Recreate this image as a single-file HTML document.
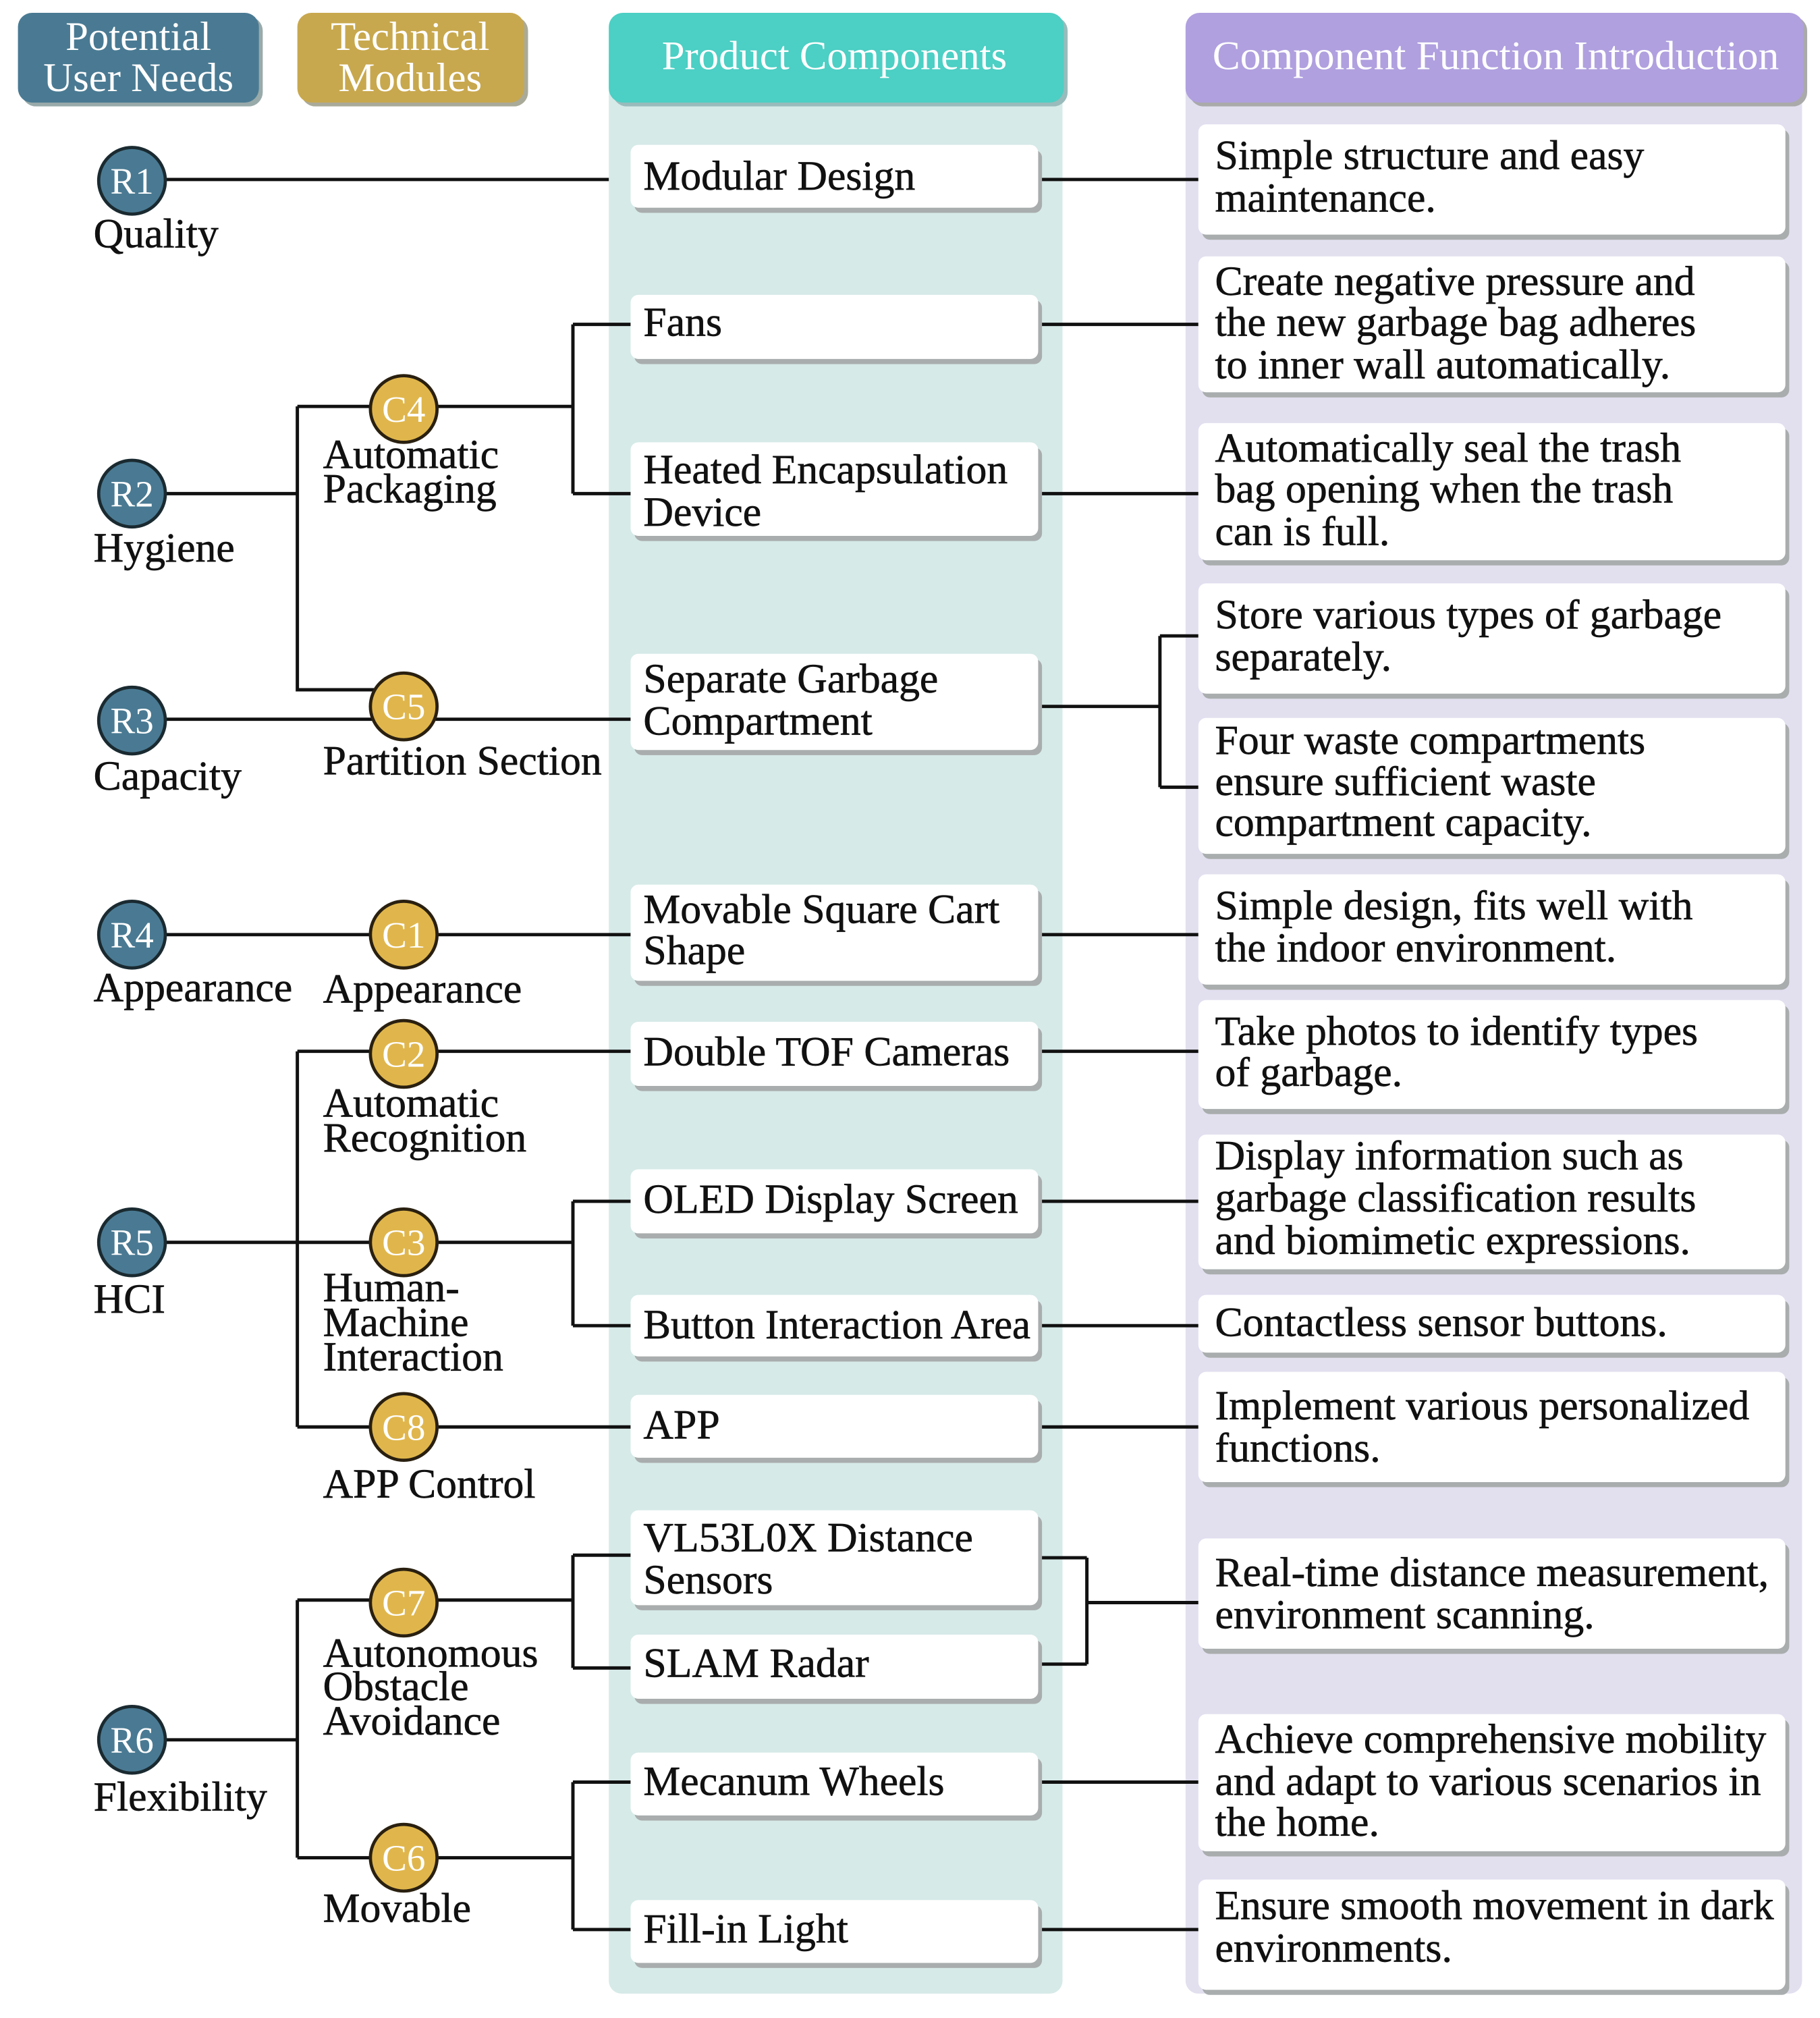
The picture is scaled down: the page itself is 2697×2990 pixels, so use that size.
<!DOCTYPE html>
<html><head><meta charset="utf-8"><style>html,body{margin:0;padding:0;background:#fff}svg{display:block}</style></head>
<body>
<svg xmlns="http://www.w3.org/2000/svg" width="2697" height="2990" viewBox="0 0 1420 1574" preserveAspectRatio="none" font-family="'Liberation Serif', serif">
<rect width="1420" height="1574" fill="#fff"/>
<rect x="475" y="40" width="354" height="1515" rx="10" fill="#d6eae8"/>
<rect x="925" y="40" width="481" height="1515" rx="10" fill="#e2e0ef"/>
<g>
<rect x="17" y="13" width="188" height="70" rx="11" fill="#9aa"/>
<rect x="14" y="10" width="188" height="70" rx="11" fill="#4a7a93"/>
<rect x="235" y="13" width="177" height="70" rx="11" fill="#aa9"/>
<rect x="232" y="10" width="177" height="70" rx="11" fill="#c8a84e"/>
<rect x="478" y="13" width="355" height="70" rx="11" fill="#9bb"/>
<rect x="475" y="10" width="355" height="70" rx="11" fill="#4ccfc4"/>
<rect x="928" y="13" width="482" height="70" rx="11" fill="#aaa"/>
<rect x="925" y="10" width="482" height="70" rx="11" fill="#b0a0df"/>
</g>
<g fill="#fff" font-size="32" text-anchor="middle">
<text x="108" y="39">Potential</text><text x="108" y="71">User Needs</text>
<text x="320" y="39">Technical</text><text x="320" y="71">Modules</text>
<text x="651" y="54">Product Components</text>
<text x="1167" y="54" textLength="442" lengthAdjust="spacingAndGlyphs">Component Function Introduction</text>
</g>
<g stroke="#111" stroke-width="2.6" fill="none">
<path d="M130 140H475M810 140H935"/>
<path d="M130 385H232M232 317V538H300M232 317H447M447 253V385M447 253H492M447 385H492"/>
<path d="M810 253H935M810 385H935"/>
<path d="M130 561H492"/>
<path d="M810 551H905M905 496V614M905 496H935M905 614H935"/>
<path d="M130 729H492M810 729H935"/>
<path d="M130 969H447M232 820V1113M232 820H492M232 1113H492M447 937V1034M447 937H492M447 1034H492"/>
<path d="M810 820H935M810 937H935M810 1034H935M810 1113H935"/>
<path d="M130 1357H232M232 1248V1449M232 1248H447M447 1213V1301M447 1213H492M447 1301H492M232 1449H447M447 1390V1505M447 1390H492M447 1505H492"/>
<path d="M810 1215H848M810 1298H848M848 1215V1298M848 1250H935"/>
<path d="M810 1390H935M810 1505H935"/>
</g>
<g fill="#a9adad">
<rect x="495" y="117" width="318" height="49" rx="6"/>
<rect x="495" y="234" width="318" height="50" rx="6"/>
<rect x="495" y="349" width="318" height="73" rx="6"/>
<rect x="495" y="514" width="318" height="75" rx="6"/>
<rect x="495" y="694" width="318" height="75" rx="6"/>
<rect x="495" y="801" width="318" height="50" rx="6"/>
<rect x="495" y="916" width="318" height="50" rx="6"/>
<rect x="495" y="1014" width="318" height="48" rx="6"/>
<rect x="495" y="1092" width="318" height="49" rx="6"/>
<rect x="495" y="1182" width="318" height="74" rx="6"/>
<rect x="495" y="1279" width="318" height="50" rx="6"/>
<rect x="495" y="1371" width="318" height="49" rx="6"/>
<rect x="495" y="1486" width="318" height="49" rx="6"/>
</g>
<g fill="#fff">
<rect x="492" y="113" width="318" height="49" rx="6"/>
<rect x="492" y="230" width="318" height="50" rx="6"/>
<rect x="492" y="345" width="318" height="73" rx="6"/>
<rect x="492" y="510" width="318" height="75" rx="6"/>
<rect x="492" y="690" width="318" height="75" rx="6"/>
<rect x="492" y="797" width="318" height="50" rx="6"/>
<rect x="492" y="912" width="318" height="50" rx="6"/>
<rect x="492" y="1010" width="318" height="48" rx="6"/>
<rect x="492" y="1088" width="318" height="49" rx="6"/>
<rect x="492" y="1178" width="318" height="74" rx="6"/>
<rect x="492" y="1275" width="318" height="50" rx="6"/>
<rect x="492" y="1367" width="318" height="49" rx="6"/>
<rect x="492" y="1482" width="318" height="49" rx="6"/>
</g>
<g font-size="32.5" fill="#111" stroke="#111" stroke-width="0.35">
<text x="502" y="148">Modular Design</text>
<text x="502" y="262">Fans</text>
<text x="502" y="377">Heated Encapsulation</text><text x="502" y="410">Device</text>
<text x="502" y="540">Separate Garbage</text><text x="502" y="573">Compartment</text>
<text x="502" y="720">Movable Square Cart</text><text x="502" y="752">Shape</text>
<text x="502" y="831">Double TOF Cameras</text>
<text x="502" y="946">OLED Display Screen</text>
<text x="502" y="1044" textLength="302" lengthAdjust="spacingAndGlyphs">Button Interaction Area</text>
<text x="502" y="1122">APP</text>
<text x="502" y="1210">VL53L0X Distance</text><text x="502" y="1243">Sensors</text>
<text x="502" y="1308">SLAM Radar</text>
<text x="502" y="1400">Mecanum Wheels</text>
<text x="502" y="1515">Fill-in Light</text>
</g>
<g fill="#a9adad">
<rect x="938" y="101" width="458" height="86" rx="6"/>
<rect x="938" y="204" width="458" height="106" rx="6"/>
<rect x="938" y="334" width="458" height="107" rx="6"/>
<rect x="938" y="459" width="458" height="86" rx="6"/>
<rect x="938" y="564" width="458" height="106" rx="6"/>
<rect x="938" y="686" width="458" height="86" rx="6"/>
<rect x="938" y="784" width="458" height="85" rx="6"/>
<rect x="938" y="889" width="458" height="105" rx="6"/>
<rect x="938" y="1014" width="458" height="45" rx="6"/>
<rect x="938" y="1074" width="458" height="86" rx="6"/>
<rect x="938" y="1204" width="458" height="86" rx="6"/>
<rect x="938" y="1341" width="458" height="107" rx="6"/>
<rect x="938" y="1470" width="458" height="86" rx="6"/>
</g>
<g fill="#fff">
<rect x="935" y="97" width="458" height="86" rx="6"/>
<rect x="935" y="200" width="458" height="106" rx="6"/>
<rect x="935" y="330" width="458" height="107" rx="6"/>
<rect x="935" y="455" width="458" height="86" rx="6"/>
<rect x="935" y="560" width="458" height="106" rx="6"/>
<rect x="935" y="682" width="458" height="86" rx="6"/>
<rect x="935" y="780" width="458" height="85" rx="6"/>
<rect x="935" y="885" width="458" height="105" rx="6"/>
<rect x="935" y="1010" width="458" height="45" rx="6"/>
<rect x="935" y="1070" width="458" height="86" rx="6"/>
<rect x="935" y="1200" width="458" height="86" rx="6"/>
<rect x="935" y="1337" width="458" height="107" rx="6"/>
<rect x="935" y="1466" width="458" height="86" rx="6"/>
</g>
<g font-size="32.5" fill="#111" stroke="#111" stroke-width="0.35">
<text x="948" y="132">Simple structure and easy</text><text x="948" y="165">maintenance.</text>
<text x="948" y="230">Create negative pressure and</text><text x="948" y="262">the new garbage bag adheres</text><text x="948" y="295">to inner wall automatically.</text>
<text x="948" y="360">Automatically seal the trash</text><text x="948" y="392">bag opening when the trash</text><text x="948" y="425">can is full.</text>
<text x="948" y="490">Store various types of garbage</text><text x="948" y="523">separately.</text>
<text x="948" y="588">Four waste compartments</text><text x="948" y="620">ensure sufficient waste</text><text x="948" y="652">compartment capacity.</text>
<text x="948" y="717">Simple design, fits well with</text><text x="948" y="750">the indoor environment.</text>
<text x="948" y="815">Take photos to identify types</text><text x="948" y="847">of garbage.</text>
<text x="948" y="912">Display information such as</text><text x="948" y="945">garbage classification results</text><text x="948" y="978">and biomimetic expressions.</text>
<text x="948" y="1042">Contactless sensor buttons.</text>
<text x="948" y="1107">Implement various personalized</text><text x="948" y="1140">functions.</text>
<text x="948" y="1237" textLength="432" lengthAdjust="spacingAndGlyphs">Real-time distance measurement,</text><text x="948" y="1270">environment scanning.</text>
<text x="948" y="1367" textLength="430" lengthAdjust="spacingAndGlyphs">Achieve comprehensive mobility</text><text x="948" y="1400" textLength="426" lengthAdjust="spacingAndGlyphs">and adapt to various scenarios in</text><text x="948" y="1432">the home.</text>
<text x="948" y="1497" textLength="436" lengthAdjust="spacingAndGlyphs">Ensure smooth movement in dark</text><text x="948" y="1530">environments.</text>
</g>
<g fill="#4a7a93" stroke="#1a2a30" stroke-width="2.5">
<circle cx="103" cy="141" r="26"/><circle cx="103" cy="385" r="26"/><circle cx="103" cy="562" r="26"/>
<circle cx="103" cy="729" r="26"/><circle cx="103" cy="969" r="26"/><circle cx="103" cy="1357" r="26"/>
</g>
<g fill="#fff" font-size="29" text-anchor="middle">
<text x="103" y="151">R1</text><text x="103" y="395">R2</text><text x="103" y="572">R3</text>
<text x="103" y="739">R4</text><text x="103" y="979">R5</text><text x="103" y="1367">R6</text>
</g>
<g fill="#e0b64c" stroke="#2a2010" stroke-width="2.5">
<circle cx="315" cy="319" r="26"/><circle cx="315" cy="551" r="26"/><circle cx="315" cy="729" r="26"/>
<circle cx="315" cy="822" r="26"/><circle cx="315" cy="969" r="26"/><circle cx="315" cy="1113" r="26"/>
<circle cx="315" cy="1250" r="26"/><circle cx="315" cy="1449" r="26"/>
</g>
<g fill="#fff" font-size="29" text-anchor="middle">
<text x="315" y="329">C4</text><text x="315" y="561">C5</text><text x="315" y="739">C1</text>
<text x="315" y="832">C2</text><text x="315" y="979">C3</text><text x="315" y="1123">C8</text>
<text x="315" y="1260">C7</text><text x="315" y="1459">C6</text>
</g>
<g font-size="32.5" fill="#111" stroke="#111" stroke-width="0.35">
<text x="73" y="193">Quality</text><text x="73" y="438">Hygiene</text><text x="73" y="616">Capacity</text>
<text x="73" y="781">Appearance</text><text x="73" y="1024">HCI</text><text x="73" y="1412">Flexibility</text>
<text x="252" y="365">Automatic</text><text x="252" y="392">Packaging</text>
<text x="252" y="604">Partition Section</text>
<text x="252" y="782">Appearance</text>
<text x="252" y="871">Automatic</text><text x="252" y="898">Recognition</text>
<text x="252" y="1015">Human-</text><text x="252" y="1042">Machine</text><text x="252" y="1069">Interaction</text>
<text x="252" y="1168">APP Control</text>
<text x="252" y="1300">Autonomous</text><text x="252" y="1326">Obstacle</text><text x="252" y="1353">Avoidance</text>
<text x="252" y="1499">Movable</text>
</g>
</svg>
</body></html>
